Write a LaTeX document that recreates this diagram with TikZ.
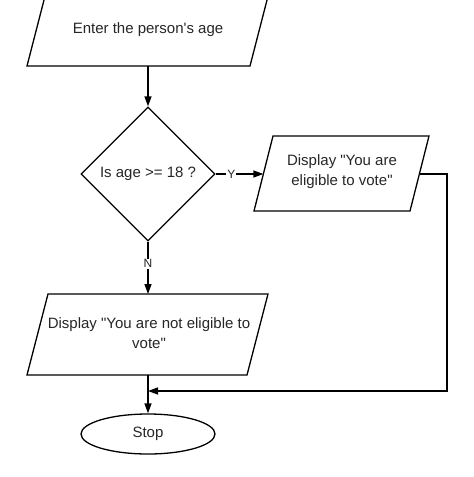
\documentclass[tikz,border=0pt]{standalone}
\usepackage{fontspec}
\setmainfont{Liberation Sans}
\usetikzlibrary{shapes.geometric,arrows.meta}
\newcommand{\dq}{\textquotedbl}
\begin{document}
\begin{tikzpicture}[x=1pt,y=-1pt,
  line width=1.3pt,
  every node/.style={font=\fontsize{15}{20}\selectfont, text=black!85},
  box/.style={draw=black, line width=1.3pt, line join=miter},
  conn/.style={draw=black, line width=1.3pt, -{Triangle[length=10pt,width=7pt]}},
  lbl/.style={fill=white, inner sep=1pt, font=\fontsize{12}{14}\selectfont}]
\useasboundingbox (0,0) rectangle (474,477);
\clip (0,0) rectangle (474,477);
% top parallelogram
\draw[box] (27,66) -- (46.6,-10) -- (269.6,-10) -- (250,66) -- cycle;
\node (in) at (148,30) {Enter the person\textquotesingle s age};
\coordinate (inb) at (148,66);
% decision
\node[draw=black, line width=1.3pt, shape=diamond, aspect=1, minimum width=134pt, minimum height=134pt, inner sep=0pt] (d) at (148,174) {};
\node (dt) at (148,174) {Is age >= 18 ?};
% yes output
\draw[box] (254,211) -- (273,136) -- (429,136) -- (410,211) -- cycle;
\node[align=center] (yes) at (342,171.5) {Display \dq You are\\eligible to vote\dq};
\coordinate (yesl) at (263.4,174);
\coordinate (yesr) at (419.4,174);
% no output
\draw[box] (27,375) -- (48,294) -- (268,294) -- (247,375) -- cycle;
\node[align=center] (no) at (149,333) {Display \dq You are not eligible to\\vote\dq};
\coordinate (not) at (148,294);
\coordinate (nob) at (148,375);
% stop
\node[draw=black, line width=1.3pt, shape=ellipse, minimum width=134pt, minimum height=40pt, inner sep=0pt] (stop) at (148,434) {Stop};
\coordinate (j) at (148,391);
% connectors
\draw[conn] (inb) -- (d.north);
\draw[conn] (d.east) -- node[lbl, pos=0.33] {Y} (yesl);
\draw[conn] (d.south) -- node[lbl, pos=0.42] {N} (not);
\draw[conn] (nob) -- (stop.north);
\draw[conn] (yesr) -- (447,174) -- (447,391) -- (j);
\end{tikzpicture}
\end{document}
